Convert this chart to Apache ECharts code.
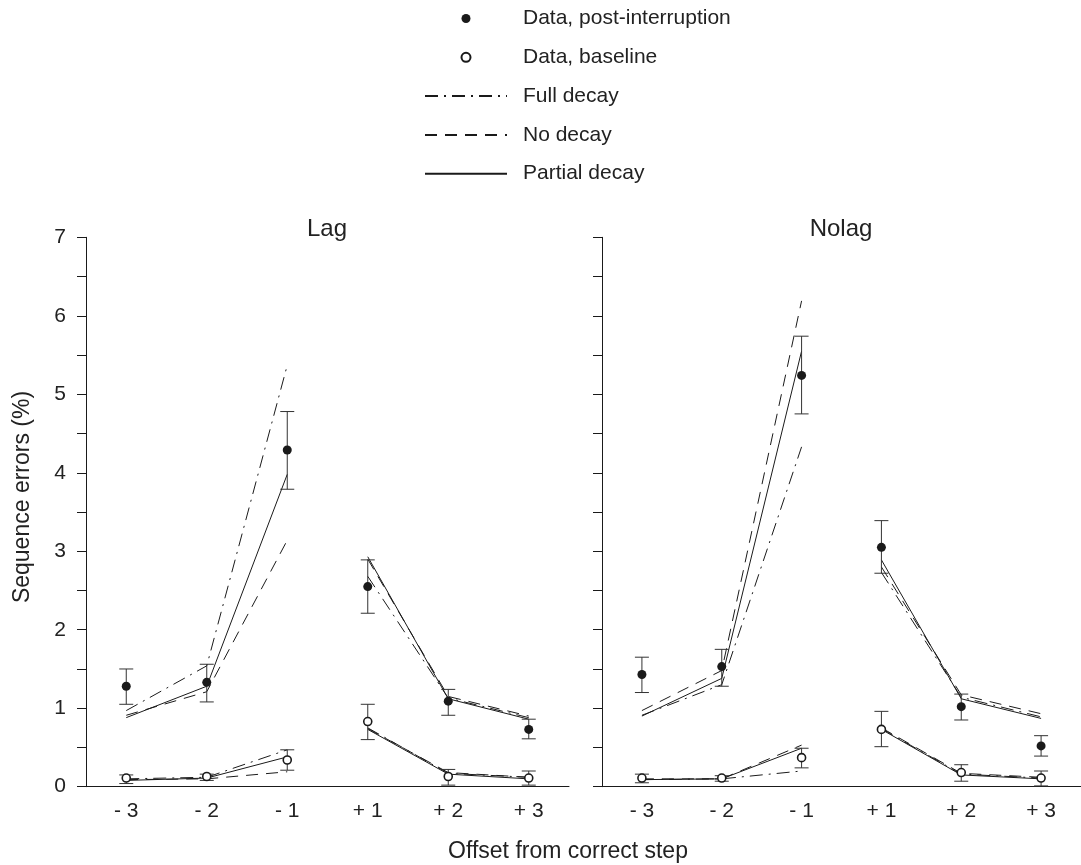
<!DOCTYPE html>
<html lang="en">

<head>
    <meta charset="UTF-8">
    <title>sequence errors</title>
    <style>
        html,
        body,
        #chart {
            margin: 0;
            padding: 0;
            overflow: hidden;
            width: 100%;
            height: 100%;
            background: #fff;
        }
    </style>
</head>

<body>
    <div id="chart"></div>
    <script src="https://cdn.jsdelivr.net/npm/echarts@6/dist/echarts.min.js"></script>
    <script>
        var categories = ['- 3', '- 2', '- 1', '+ 1', '+ 2', '+ 3'];
        var panels = ['Lag', 'Nolag'];
        var legendNames = ['Data, post-interruption', 'Data, baseline', 'Full decay', 'No decay', 'Partial decay'];

        // Lag
        var lagPost = [1.28, 1.33, 4.29, 2.55, 1.09, 0.73];
        var lagPostLow = [1.05, 1.08, 3.79, 2.21, 0.91, 0.61];
        var lagPostHigh = [1.50, 1.56, 4.78, 2.89, 1.24, 0.86];
        var lagBase = [0.11, 0.13, 0.34, 0.83, 0.13, 0.11];
        var lagBaseLow = [0.04, 0.08, 0.21, 0.60, 0.02, 0.02];
        var lagBaseHigh = [0.15, 0.16, 0.47, 1.05, 0.22, 0.20];
        var lagPostFull = [0.97, 1.54, 5.37, 2.68, 1.13, 0.88];
        var lagPostNone = [0.91, 1.21, 3.14, 2.90, 1.15, 0.90];
        var lagPostPartial = [0.88, 1.28, 3.98, 2.93, 1.12, 0.86];
        var lagBaseFull = [0.10, 0.12, 0.47, 0.75, 0.17, 0.12];
        var lagBaseNone = [0.09, 0.10, 0.19, 0.74, 0.18, 0.12];
        var lagBasePartial = [0.08, 0.11, 0.38, 0.73, 0.16, 0.10];

        // Nolag
        var nolagPost = [1.43, 1.53, 5.24, 3.05, 1.02, 0.52];
        var nolagPostLow = [1.20, 1.28, 4.75, 2.72, 0.85, 0.39];
        var nolagPostHigh = [1.65, 1.75, 5.74, 3.39, 1.18, 0.65];
        var nolagBase = [0.11, 0.11, 0.37, 0.73, 0.18, 0.11];
        var nolagBaseLow = [0.05, 0.07, 0.24, 0.51, 0.07, 0.01];
        var nolagBaseHigh = [0.16, 0.14, 0.49, 0.96, 0.28, 0.20];
        var nolagPostFull = [0.91, 1.30, 4.33, 2.73, 1.14, 0.89];
        var nolagPostNone = [0.97, 1.48, 6.19, 2.80, 1.17, 0.93];
        var nolagPostPartial = [0.90, 1.38, 5.55, 2.89, 1.12, 0.87];
        var nolagBaseFull = [0.09, 0.10, 0.20, 0.74, 0.16, 0.11];
        var nolagBaseNone = [0.10, 0.10, 0.53, 0.75, 0.17, 0.12];
        var nolagBasePartial = [0.09, 0.10, 0.49, 0.73, 0.15, 0.10];

        var ink = '#1a1a1a';
        var font = 'Liberation Sans';
        var dashes = {
            'Full decay': [13, 6, 2, 6],
            'No decay': [12, 8],
            'Partial decay': 'solid'
        };

        var panelData = [{
            post: lagPost, postLow: lagPostLow, postHigh: lagPostHigh,
            base: lagBase, baseLow: lagBaseLow, baseHigh: lagBaseHigh,
            models: {
                'Full decay': [lagPostFull, lagBaseFull],
                'No decay': [lagPostNone, lagBaseNone],
                'Partial decay': [lagPostPartial, lagBasePartial]
            }
        }, {
            post: nolagPost, postLow: nolagPostLow, postHigh: nolagPostHigh,
            base: nolagBase, baseLow: nolagBaseLow, baseHigh: nolagBaseHigh,
            models: {
                'Full decay': [nolagPostFull, nolagBaseFull],
                'No decay': [nolagPostNone, nolagBaseNone],
                'Partial decay': [nolagPostPartial, nolagBasePartial]
            }
        }];

        // lines break between -1 and +1
        function segments(vals) {
            return [
                vals.slice(0, 3).concat([null, null, null]),
                [null, null, null].concat(vals.slice(3))
            ];
        }

        function errorSeries(low, high, gi) {
            return {
                type: 'custom',
                name: 'err' + gi,
                xAxisIndex: gi,
                yAxisIndex: gi,
                silent: true,
                z: 3,
                data: low.map(function (v, i) { return [i, v, high[i]]; }),
                encode: { x: 0, y: [1, 2] },
                renderItem: function (params, api) {
                    var lo = api.coord([api.value(0), api.value(1)]);
                    var hi = api.coord([api.value(0), api.value(2)]);
                    var w = 7;
                    var st = { stroke: '#333', lineWidth: 1 };
                    return {
                        type: 'group',
                        children: [
                            { type: 'line', shape: { x1: hi[0], y1: hi[1], x2: lo[0], y2: lo[1] }, style: st },
                            { type: 'line', shape: { x1: hi[0] - w, y1: hi[1], x2: hi[0] + w, y2: hi[1] }, style: st },
                            { type: 'line', shape: { x1: lo[0] - w, y1: lo[1], x2: lo[0] + w, y2: lo[1] }, style: st }
                        ]
                    };
                }
            };
        }

        var series = [];
        panelData.forEach(function (p, gi) {
            Object.keys(p.models).forEach(function (name) {
                p.models[name].forEach(function (vals) {
                    segments(vals).forEach(function (seg) {
                        series.push({
                            type: 'line',
                            name: name,
                            xAxisIndex: gi,
                            yAxisIndex: gi,
                            data: seg,
                            symbol: 'none',
                            silent: true,
                            z: 2,
                            lineStyle: { color: ink, width: 1, type: dashes[name] },
                            itemStyle: { color: ink }
                        });
                    });
                });
            });
            series.push(errorSeries(p.postLow, p.postHigh, gi));
            series.push(errorSeries(p.baseLow, p.baseHigh, gi));
            series.push({
                type: 'scatter',
                name: 'Data, post-interruption',
                xAxisIndex: gi,
                yAxisIndex: gi,
                data: p.post,
                symbol: 'circle',
                symbolSize: 9,
                z: 4,
                itemStyle: { color: ink, opacity: 1 }
            });
            series.push({
                type: 'scatter',
                name: 'Data, baseline',
                xAxisIndex: gi,
                yAxisIndex: gi,
                data: p.base,
                symbol: 'circle',
                symbolSize: 8,
                z: 4,
                itemStyle: { color: '#fff', borderColor: ink, borderWidth: 1.6, opacity: 1 }
            });
        });

        var chart = echarts.init(document.getElementById('chart'));
        chart.setOption({
            animation: false,
            textStyle: { fontFamily: font, color: '#222' },
            title: panels.map(function (t, i) {
                return {
                    text: t,
                    left: i === 0 ? 327 : 841,
                    top: 217,
                    padding: 0,
                    textAlign: 'center',
                    textStyle: { fontSize: 24, fontWeight: 'normal', color: '#222', fontFamily: font }
                };
            }),
            legend: {
                orient: 'vertical',
                left: 424,
                top: 8,
                padding: 0,
                itemWidth: 82,
                itemHeight: 9,
                itemGap: 17.8,
                selectedMode: false,
                data: legendNames.map(function (n) {
                    return n.indexOf('Data') === 0 ? { name: n, icon: 'circle' } :
                        { name: n, itemStyle: { opacity: 0 } };
                }),
                textStyle: { fontSize: 21, color: '#222', fontFamily: font, padding: [0, 0, 0, 11] }
            },
            grid: [
                { left: 86, top: 237.3, width: 483, height: 549.4 },
                { left: 602, top: 237.3, width: 483, height: 549.4 }
            ],
            xAxis: [0, 1].map(function (gi) {
                return {
                    type: 'category',
                    gridIndex: gi,
                    data: categories,
                    boundaryGap: true,
                    axisLine: { lineStyle: { color: ink, width: 1 } },
                    axisTick: { length: 7, lineStyle: { color: ink } },
                    axisLabel: { fontSize: 21, margin: 14, color: '#222', fontFamily: font },
                    splitLine: { show: false }
                };
            }),
            yAxis: [0, 1].map(function (gi) {
                return {
                    type: 'value',
                    gridIndex: gi,
                    min: 0,
                    max: 7,
                    interval: 0.5,
                    axisLine: { show: true, lineStyle: { color: ink, width: 1 } },
                    axisTick: { show: true, length: 9, lineStyle: { color: ink } },
                    axisLabel: {
                        show: gi === 0,
                        fontSize: 21,
                        margin: 20,
                        color: '#222',
                        fontFamily: font,
                        formatter: function (v) { return v % 1 === 0 ? String(v) : ''; }
                    },
                    splitLine: { show: false }
                };
            }),
            graphic: [{
                type: 'text',
                x: 23,
                y: 497,
                rotation: Math.PI / 2,
                style: {
                    text: 'Sequence errors (%)',
                    fontSize: 23,
                    fontFamily: font,
                    fill: '#222',
                    textAlign: 'center',
                    textVerticalAlign: 'middle'
                }
            }, {
                type: 'text',
                x: 568,
                y: 852,
                style: {
                    text: 'Offset from correct step',
                    fontSize: 23,
                    fontFamily: font,
                    fill: '#222',
                    textAlign: 'center',
                    textVerticalAlign: 'middle'
                }
            }],
            series: series
        });
    </script>
</body>

</html>
